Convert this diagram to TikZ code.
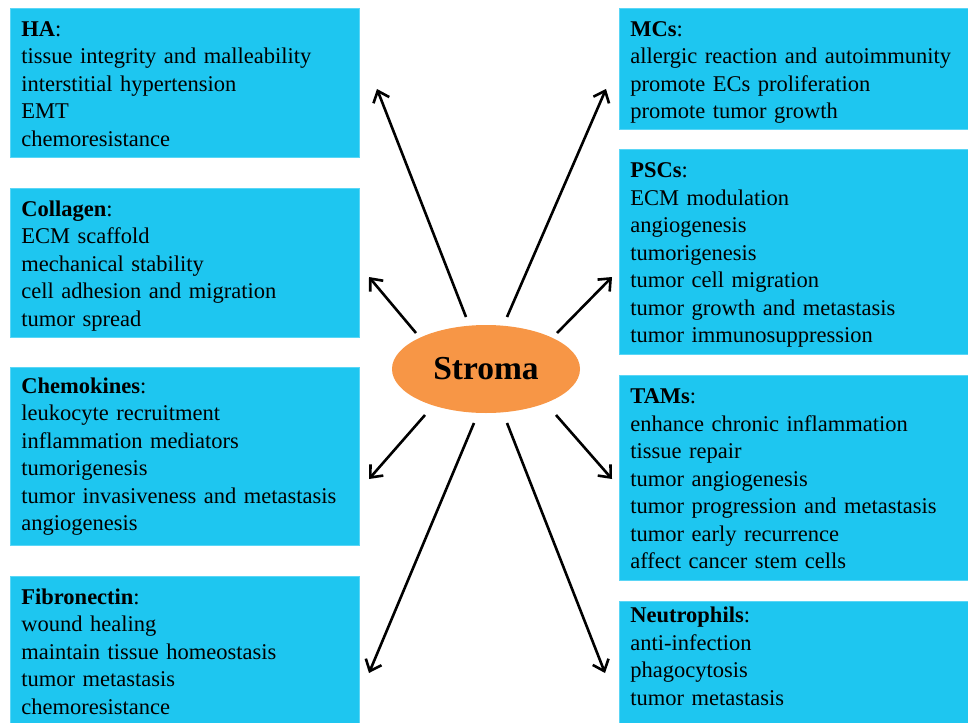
\documentclass[tikz,border=0pt]{standalone}
\usepackage{fontspec}
\setmainfont{Liberation Serif}
\usetikzlibrary{shapes.geometric,arrows.meta}
\definecolor{boxcyan}{RGB}{30,198,240}
\definecolor{boxedge}{RGB}{90,214,246}
\definecolor{stromaorange}{RGB}{247,150,70}
\newcommand{\firstline}{\rule{0pt}{25.25pt}}
\newcommand{\lastlinelow}{\rule[-16.25pt]{0pt}{0pt}}
\begin{document}
\begin{tikzpicture}[x=1pt,y=-1pt,
  infobox/.style={fill=boxcyan, draw=boxedge, line width=0.8pt, anchor=north west,
    minimum width=349pt, inner sep=0pt, text width=327pt, align=left,
    font=\fontsize{22.5}{27.5}\selectfont},
  hub/.style={ellipse, fill=stromaorange, draw=none, minimum width=188pt,
    minimum height=88pt, inner sep=0pt, font=\fontsize{33.5}{38}\selectfont\bfseries},
  arr/.style={line width=2.6pt, -{Straight Barb[length=10pt,width=17pt]}}
]
\useasboundingbox (0,0) rectangle (968,722);

% left column
\node[infobox, minimum height=149pt] (ha) at (10,8)
  {\firstline\textbf{HA}:\\tissue integrity and malleability\\interstitial hypertension\\EMT\\chemoresistance\strut};
\node[infobox, minimum height=149pt] (col) at (10,188)
  {\firstline\textbf{Collagen}:\\ECM scaffold\\mechanical stability\\cell adhesion and migration\\tumor spread\strut};
\node[infobox, minimum height=178pt] (chem) at (10,367)
  {\strut\textbf{Chemokines}:\\leukocyte recruitment\\inflammation mediators\\tumorigenesis\\tumor invasiveness and metastasis\\angiogenesis\strut};
\node[infobox, minimum height=149pt] (fib) at (10,576)
  {\firstline\textbf{Fibronectin}:\\wound healing\\maintain tissue homeostasis\\tumor metastasis\\chemoresistance\strut};

% right column
\node[infobox, minimum height=121pt] (mcs) at (619,8)
  {\firstline\textbf{MCs}:\\allergic reaction and autoimmunity\\promote ECs proliferation\\promote tumor growth\strut};
\node[infobox, minimum height=205pt] (pscs) at (619,149)
  {\firstline\textbf{PSCs}:\\ECM modulation\\angiogenesis\\tumorigenesis\\tumor cell migration\\tumor growth and metastasis\\tumor immunosuppression\strut};
\node[infobox, minimum height=205pt] (tams) at (619,375)
  {\firstline\textbf{TAMs}:\\enhance chronic inflammation\\tissue repair\\tumor angiogenesis\\tumor progression and metastasis\\tumor early recurrence\\affect cancer stem cells\strut};
\node[infobox, minimum height=122pt] (neu) at (619,601)
  {\strut\textbf{Neutrophils}:\\anti-infection\\phagocytosis\\tumor metastasis\lastlinelow};

% centre
\node[hub] (stroma) at (486,369) {Stroma};

% arrow end points
\coordinate (s1) at (466,317); \coordinate (e1) at (377,89);
\coordinate (s2) at (507,317); \coordinate (e2) at (606,89);
\coordinate (s3) at (416,333); \coordinate (e3) at (369,277);
\coordinate (s4) at (557,333); \coordinate (e4) at (612,277);
\coordinate (s5) at (425,415); \coordinate (e5) at (369,479);
\coordinate (s6) at (474,423); \coordinate (e6) at (369,673);
\coordinate (s7) at (507,423); \coordinate (e7) at (605,673);
\coordinate (s8) at (556,415); \coordinate (e8) at (612,479);

\foreach \i in {1,...,8} {\draw[arr] (s\i) -- (e\i);}
\end{tikzpicture}
\end{document}
